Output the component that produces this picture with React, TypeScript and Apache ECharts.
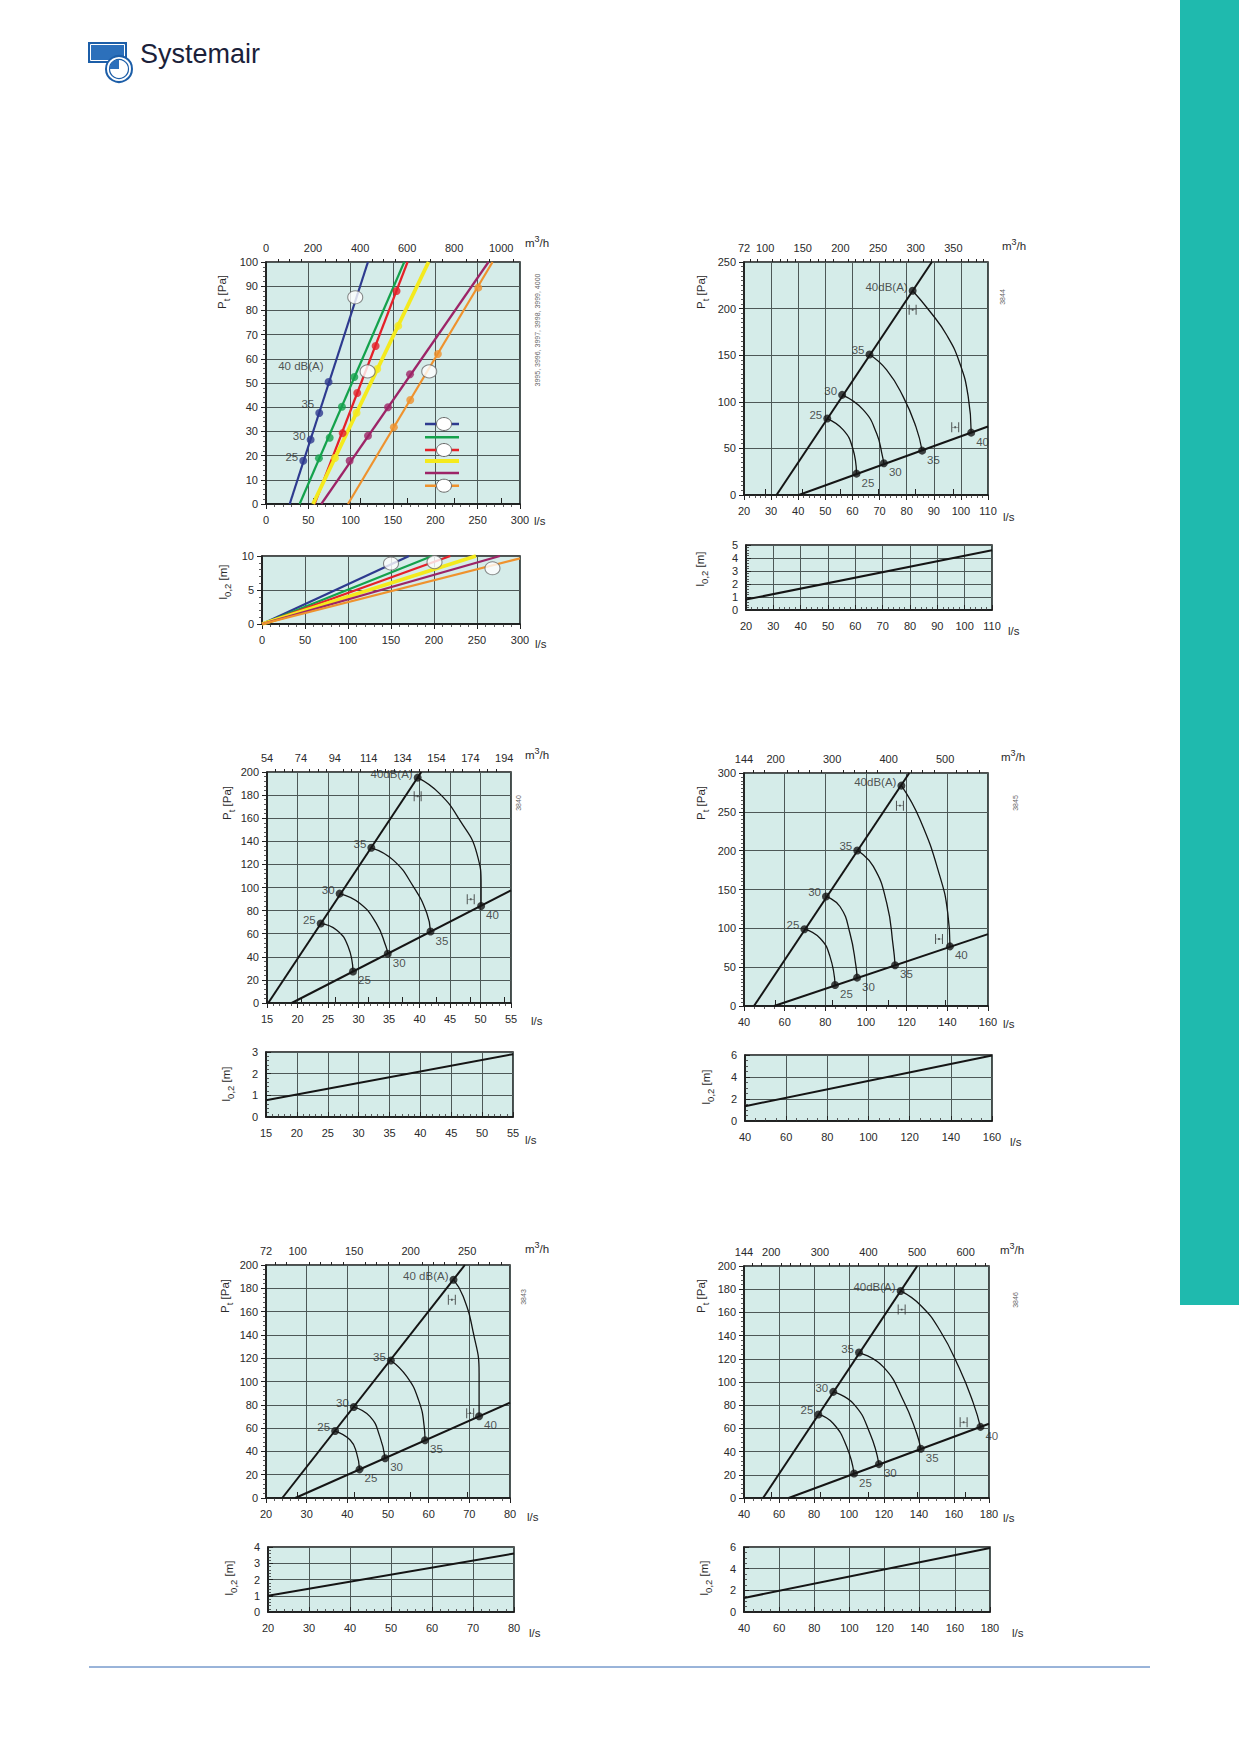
import React, { useEffect, useRef } from 'react';
import * as echarts from 'echarts';

// ================= DATA =================
// Chart 1 – pressure vs flow, six models (l/s, Pa)
const C1_M3H_LABELS = [0, 200, 400, 600, 800, 1000];
const C1_BLUE_LINE = [[28, 0], [120.4, 100]];
const C1_GREEN_LINE = [[39.7, 0], [163.3, 100]];
const C1_RED_LINE = [[57.4, 0], [167.2, 100]];
const C1_YELLOW_LINE = [[55.5, 0], [192, 100]];
const C1_PURPLE_LINE = [[65.3, 0], [262.8, 100]];
const C1_ORANGE_LINE = [[96.8, 0], [267.6, 100]];
const C1_BLUE_DOTS = [[44, 17.9], [52.7, 26.6], [62.9, 37.6], [73.9, 50.4]];
const C1_GREEN_DOTS = [[62.5, 18.9], [75.2, 27.4], [89.7, 40.2], [104.3, 52.5]];
const C1_RED_DOTS = [[90.5, 29.3], [107.8, 45.9], [129.5, 65.3], [154.2, 88]];
const C1_YELLOW_DOTS = [[81.4, 19], [107, 37.7], [131.4, 55.8], [156.2, 73.6]];
const C1_PURPLE_DOTS = [[98.8, 17.9], [120.5, 28.2], [144.1, 40], [170.1, 53.6]];
const C1_ORANGE_DOTS = [[151, 31.7], [170.4, 43], [203, 62], [250.7, 89.4]];
const C1_RINGS = [[105.4, 85.4], [120, 54.8], [192.8, 54.8]];
const C1_DB_LABELS = ['25', '30', '35', '40 dB(A)'];
// Chart 1 – throw l0,2 (m)
const T1_BLUE = [[0, 0], [171, 10]];
const T1_GREEN = [[0, 0], [198, 10]];
const T1_RED = [[0, 0], [219, 10]];
const T1_YELLOW = [[0, 0], [248.8, 10]];
const T1_PURPLE = [[0, 0], [276.7, 10]];
const T1_ORANGE = [[0, 0], [300, 9.66]];
const T1_RINGS = [[150, 8.9], [200.6, 9.1], [268, 8.2]];

const DB_LABELS = ['25', '30', '35', '40dB(A)'];
const LOW_LABELS = ['25', '30', '35', '40'];

// Chart 2 (3844)
const C2_M3H_LABELS = [72, 100, 150, 200, 250, 300, 350];
const C2_UPPER = [[32, 0], [89.3, 250]];
const C2_LOWER = [[40.2, 0], [110, 73.5]];
const C2_UPPER_DOTS = [[50.7, 82], [56.2, 107.4], [66.3, 150.8], [82.2, 219.2]];
const C2_LOWER_DOTS = [[61.5, 22.9], [71.6, 34], [85.7, 47.6], [103.8, 66.9]];
const C2_ARC25 = [[50.7, 82], [56.6, 69.8], [60.1, 50.1], [61.5, 22.9]];
const C2_ARC30 = [[56.2, 107.4], [64.0, 91.3], [68.9, 66.2], [71.1, 41.2], [71.6, 34]];
const C2_ARC35 = [[66.3, 150.8], [72.6, 134.3], [78.7, 105.6], [83.4, 73.4], [85.7, 47.6]];
const C2_ARC40 = [[82.2, 219.2], [88.6, 196.9], [94.7, 171.9], [99.6, 141.4], [102.7, 105.6], [103.8, 66.9]];
const C2_ICONS = [[82.2, 198.7], [97.9, 72.7]];
const T2_LINE = [[20, 0.8], [110, 4.6]];

// Chart 3 (3840)
const C3_M3H_LABELS = [54, 74, 94, 114, 134, 154, 174, 194];
const C3_UPPER = [[15.2, 0], [40.3, 200]];
const C3_LOWER = [[19.05, 0], [55, 97.5]];
const C3_UPPER_DOTS = [[23.8, 68.8], [26.9, 94.7], [32.1, 134.4], [39.7, 195.1]];
const C3_LOWER_DOTS = [[29.1, 27.3], [34.8, 42.6], [41.8, 61.9], [50.1, 84.0]];
const C3_ARC25 = [[23.8, 68.8], [26.4, 63.3], [28.3, 48.9], [29.1, 27.3]];
const C3_ARC30 = [[26.9, 94.7], [30.2, 86.3], [32.9, 69.1], [34.5, 48.9], [34.8, 42.6]];
const C3_ARC35 = [[32.1, 134.4], [35.7, 123.7], [39.0, 100.7], [41.2, 77.7], [41.8, 61.9]];
const C3_ARC40 = [[39.7, 195.1], [43.3, 181.3], [46.6, 158.3], [49.4, 129.5], [50.1, 100.7], [50.1, 84.0]];
const C3_ICONS = [[39.7, 179], [48.4, 89.8]];
const T3_LINE = [[15, 0.77], [55, 2.9]];

// Chart 4 (3845)
const C4_M3H_LABELS = [144, 200, 300, 400, 500];
const C4_UPPER = [[44.9, 0], [121.3, 300]];
const C4_LOWER = [[54.8, 0], [160, 92.5]];
const C4_UPPER_DOTS = [[69.7, 98.9], [80.3, 141], [95.7, 200.3], [117.4, 283.7]];
const C4_LOWER_DOTS = [[84.8, 27.1], [95.6, 36.5], [114.3, 52.4], [141.3, 76.8]];
const C4_ARC25 = [[69.7, 98.9], [77.4, 87.2], [82.3, 63.6], [84.8, 27.1]];
const C4_ARC30 = [[80.3, 141], [87.2, 128.1], [92.1, 93.7], [95.1, 50.7], [95.6, 36.5]];
const C4_ARC35 = [[95.7, 200.3], [103.6, 179.7], [110.2, 132.4], [113.4, 76.5], [114.3, 52.4]];
const C4_ARC40 = [[117.4, 283.7], [126.6, 239.8], [136.4, 166.5], [140.2, 120], [141.3, 76.8]];
const C4_ICONS = [[116.7, 257.9], [135.9, 86.3]];
const T4_LINE = [[40, 1.35], [160, 5.95]];

// Chart 5 (3843)
const C5_M3H_LABELS = [72, 100, 150, 200, 250];
const C5_DB_LABELS = ['25', '30', '35', '40 dB(A)'];
const C5_UPPER = [[24.0, 0], [68.9, 200]];
const C5_LOWER = [[27.2, 0], [80, 81.8]];
const C5_UPPER_DOTS = [[37.0, 57.5], [41.6, 78.1], [50.7, 118], [66.1, 187.4]];
const C5_LOWER_DOTS = [[43.0, 24.6], [49.3, 34.1], [59.1, 49.5], [72.4, 70.2]];
const C5_ARC25 = [[37.0, 57.5], [40.7, 49.8], [42.3, 38.3], [43.0, 24.6]];
const C5_ARC30 = [[41.6, 78.1], [45.6, 69.9], [48.0, 52.7], [49.3, 34.1]];
const C5_ARC35 = [[50.7, 118], [54.6, 104.3], [57.5, 84.2], [58.9, 61.3], [59.1, 49.5]];
const C5_ARC40 = [[66.1, 187.4], [68.5, 173], [71.0, 141.5], [72.4, 107.1], [72.4, 70.2]];
const C5_ICONS = [[65.7, 170.2], [70.2, 72.8]];
const T5_LINE = [[20, 1.0], [80, 3.6]];

// Chart 6 (3846)
const C6_M3H_LABELS = [144, 200, 300, 400, 500, 600];
const C6_UPPER = [[50.9, 0], [139, 200]];
const C6_LOWER = [[65.5, 0], [180, 64]];
const C6_UPPER_DOTS = [[82.5, 72], [91, 91.5], [105.7, 125.4], [129.5, 178.5]];
const C6_LOWER_DOTS = [[102.9, 21.1], [117.1, 29.2], [141, 42.4], [175.1, 61.3]];
const C6_ARC25 = [[82.5, 72], [91, 64.2], [98.7, 44.1], [102.9, 21.1]];
const C6_ARC30 = [[91, 91.5], [102.5, 81.4], [112, 55.6], [117.1, 29.2]];
const C6_ARC35 = [[105.7, 125.4], [119.6, 113], [131, 84.3], [138.7, 55.6], [141, 42.4]];
const C6_ARC40 = [[129.5, 178.5], [141, 166], [152, 144.4], [163, 112], [171, 82], [175.1, 61.3]];
const C6_ICONS = [[130.1, 162.4], [165.5, 65.3]];
const T6_LINE = [[40, 1.3], [180, 5.9]];

// ================= STYLE / LAYOUT =================
const FONT = '"Liberation Sans", Arial, Helvetica, sans-serif';
const BG = '#d5ece9';
const GRIDLINE = '#4d5857';
const AXIS = '#151515';
const TXT = '#2a2a2a';
const LBL = { fontFamily: FONT, fontSize: 11, color: TXT, formatter: (v: number) => String(v) };
const COL = {
  blue: '#2e3a8f', green: '#14a24c', red: '#e52129', yellow: '#f4ea1d', purple: '#9d2467', orange: '#ef922d',
};
const ICON = 'path://M0,0H1.3V12H0Z M8.7,0H10V12H8.7Z M1.3,5.7H8.7V6.3H1.3Z M3.9,4.9H6.1V7.1H3.9Z';

const range = (a: number, b: number, s: number) => {
  const r: number[] = [];
  for (let v = a; v <= b + 1e-9; v += s) r.push(+v.toFixed(3));
  return r;
};

function buildOption() {
  const grids: any[] = [];
  const xAxes: any[] = [];
  const yAxes: any[] = [];
  const series: any[] = [];
  const g: any[] = [];

  const gridBox = (b: number[]) => ({
    left: b[0], top: b[1], width: b[2], height: b[3], show: true,
    backgroundColor: BG, borderColor: AXIS, borderWidth: 1.5, containLabel: false, outerBoundsMode: 'none',
  });
  const valAxis = (gi: number, pos: string, r: number[], inside: boolean, margin: number) => ({
    gridIndex: gi, type: 'value', position: pos, min: r[0], max: r[1], interval: r[2],
    axisLine: { show: true, onZero: false, lineStyle: { color: AXIS, width: 1.5 } },
    axisTick: { show: true, inside, length: 5, lineStyle: { color: '#222', width: 1 } },
    minorTick: { show: true, splitNumber: r[3], length: 3, lineStyle: { color: '#333', width: 0.8 } },
    axisLabel: { ...LBL, margin },
    splitLine: { show: true, lineStyle: { color: GRIDLINE, width: 1 } },
    minorSplitLine: { show: false },
  });
  const topAxis = (gi: number, r: number[], vals: number[], len: number, labels: boolean) => ({
    gridIndex: gi, type: 'value', position: 'top', min: r[0], max: r[1],
    axisLine: { show: false }, splitLine: { show: false },
    axisTick: { show: true, customValues: vals, length: len, lineStyle: { color: '#222', width: 1 } },
    axisLabel: labels ? { ...LBL, customValues: vals, margin: 9 } : { show: false },
  });

  const addGrid = (box: number[], xr: number[], yr: number[], inside: boolean, m3?: any) => {
    const gi = grids.length;
    grids.push(gridBox(box));
    const xi = xAxes.length;
    xAxes.push(valAxis(gi, 'bottom', xr, inside, 10));
    if (m3) {
      xAxes.push(topAxis(gi, m3.r, m3.labels, 6, true));
      xAxes.push(topAxis(gi, m3.r, m3.minor.filter((v: number) => !m3.labels.includes(v)), 3, false));
    }
    const yi = yAxes.length;
    yAxes.push(valAxis(gi, 'left', yr, inside, 8));
    return { xi, yi };
  };

  const line = (ax: any, data: number[][], color: string, width: number, smooth: any = false, z = 3) => {
    series.push({
      type: 'line', xAxisIndex: ax.xi, yAxisIndex: ax.yi, data, symbol: 'none', showSymbol: false,
      smooth, lineStyle: { color, width }, silent: true, z, clip: true,
    });
  };
  const dots = (ax: any, pts: number[][], color: string, labels?: string[], mode?: string, offs?: number[][]) => {
    series.push({
      type: 'scatter', xAxisIndex: ax.xi, yAxisIndex: ax.yi, symbol: 'circle', symbolSize: 8,
      itemStyle: { color }, z: 5, silent: true,
      data: pts.map((p, i) => ({
        value: p,
        label: labels ? (mode === 'up'
          ? { show: true, formatter: labels[i], position: 'left', distance: 1, offset: offs ? offs[i] : [0, -4], fontFamily: FONT, color: TXT, fontSize: 11.5 }
          : { show: true, formatter: labels[i], position: 'right', distance: 1, offset: [0, 9], fontFamily: FONT, color: TXT, fontSize: 11.5 })
          : { show: false },
      })),
    });
  };
  const rings = (ax: any, pts: number[][]) => {
    series.push({
      type: 'scatter', xAxisIndex: ax.xi, yAxisIndex: ax.yi, symbol: 'circle', symbolSize: [15, 13],
      itemStyle: { color: '#ffffff', borderColor: '#6b6b6b', borderWidth: 1 }, z: 6, silent: true, data: pts,
    });
  };
  const icons = (ax: any, pts: number[][]) => {
    series.push({
      type: 'scatter', xAxisIndex: ax.xi, yAxisIndex: ax.yi, symbol: ICON, symbolSize: [8, 10],
      itemStyle: { color: '#333' }, z: 5, silent: true, data: pts,
    });
  };

  // ---------- Chart 1 ----------
  const a1 = addGrid([266, 262, 254, 242], [0, 300, 50, 5], [0, 100, 10, 5], false,
    { r: [0, 1080], labels: C1_M3H_LABELS, minor: range(0, 1050, 50) });
  const c1 = [
    [C1_BLUE_LINE, C1_BLUE_DOTS, COL.blue, 2.2],
    [C1_GREEN_LINE, C1_GREEN_DOTS, COL.green, 2.2],
    [C1_RED_LINE, C1_RED_DOTS, COL.red, 2.2],
    [C1_YELLOW_LINE, C1_YELLOW_DOTS, COL.yellow, 3.8],
    [C1_PURPLE_LINE, C1_PURPLE_DOTS, COL.purple, 2.2],
    [C1_ORANGE_LINE, C1_ORANGE_DOTS, COL.orange, 2.2],
  ] as any[];
  c1.forEach((s) => line(a1, s[0], s[2], s[3]));
  c1.forEach((s, i) => dots(a1, s[1], s[2], i === 0 ? C1_DB_LABELS : undefined, 'up',
    [[0, -4], [0, -4], [0, -9], [0, -16]]));
  rings(a1, C1_RINGS);

  const t1 = addGrid([262, 556, 258, 68], [0, 300, 50, 5], [0, 10, 5, 5], false);
  [[T1_BLUE, COL.blue, 2.2], [T1_GREEN, COL.green, 2.2], [T1_RED, COL.red, 2.2], [T1_YELLOW, COL.yellow, 3.8],
    [T1_PURPLE, COL.purple, 2.2], [T1_ORANGE, COL.orange, 2.2]].forEach((s: any) => line(t1, s[0], s[1], s[2]));
  rings(t1, T1_RINGS);

  // ---------- Charts 2–6 ----------
  const singles = [
    { box: [744, 262, 244, 233], x: [20, 110, 10, 5], y: [0, 250, 50, 10], m3: [72, 396], m3L: C2_M3H_LABELS, m3M: range(80, 390, 10),
      up: C2_UPPER, lo: C2_LOWER, ud: C2_UPPER_DOTS, ld: C2_LOWER_DOTS, arcs: [C2_ARC25, C2_ARC30, C2_ARC35, C2_ARC40], ic: C2_ICONS, lab: DB_LABELS,
      tb: [746, 545, 246, 65], tx: [20, 110, 10, 5], ty: [0, 5, 1, 5], tl: T2_LINE },
    { box: [267, 772, 244, 231], x: [15, 55, 5, 5], y: [0, 200, 20, 5], m3: [54, 198], m3L: C3_M3H_LABELS, m3M: range(54, 198, 5),
      up: C3_UPPER, lo: C3_LOWER, ud: C3_UPPER_DOTS, ld: C3_LOWER_DOTS, arcs: [C3_ARC25, C3_ARC30, C3_ARC35, C3_ARC40], ic: C3_ICONS, lab: DB_LABELS,
      tb: [266, 1052, 247, 65], tx: [15, 55, 5, 5], ty: [0, 3, 1, 5], tl: T3_LINE },
    { box: [744, 773, 244, 233], x: [40, 160, 20, 4], y: [0, 300, 50, 10], m3: [144, 576], m3L: C4_M3H_LABELS, m3M: range(160, 560, 20),
      up: C4_UPPER, lo: C4_LOWER, ud: C4_UPPER_DOTS, ld: C4_LOWER_DOTS, arcs: [C4_ARC25, C4_ARC30, C4_ARC35, C4_ARC40], ic: C4_ICONS, lab: DB_LABELS,
      tb: [745, 1055, 247, 66], tx: [40, 160, 20, 4], ty: [0, 6, 2, 4], tl: T4_LINE },
    { box: [266, 1265, 244, 233], x: [20, 80, 10, 5], y: [0, 200, 20, 5], m3: [72, 288], m3L: C5_M3H_LABELS, m3M: range(80, 280, 10),
      up: C5_UPPER, lo: C5_LOWER, ud: C5_UPPER_DOTS, ld: C5_LOWER_DOTS, arcs: [C5_ARC25, C5_ARC30, C5_ARC35, C5_ARC40], ic: C5_ICONS, lab: C5_DB_LABELS,
      tb: [268, 1547, 246, 65], tx: [20, 80, 10, 5], ty: [0, 4, 1, 5], tl: T5_LINE },
    { box: [744, 1266, 245, 232], x: [40, 180, 20, 4], y: [0, 200, 20, 5], m3: [144, 648], m3L: C6_M3H_LABELS, m3M: range(160, 640, 20),
      up: C6_UPPER, lo: C6_LOWER, ud: C6_UPPER_DOTS, ld: C6_LOWER_DOTS, arcs: [C6_ARC25, C6_ARC30, C6_ARC35, C6_ARC40], ic: C6_ICONS, lab: DB_LABELS,
      tb: [744, 1547, 246, 65], tx: [40, 180, 20, 4], ty: [0, 6, 2, 4], tl: T6_LINE },
  ];
  singles.forEach((c) => {
    const a = addGrid(c.box, c.x, c.y, false, { r: c.m3, labels: c.m3L, minor: c.m3M });
    line(a, c.up, AXIS, 2);
    line(a, c.lo, AXIS, 2);
    c.arcs.forEach((arc) => line(a, arc, AXIS, 1.3, 0.5, 4));
    dots(a, c.ud, AXIS, c.lab, 'up');
    dots(a, c.ld, AXIS, LOW_LABELS, 'low');
    icons(a, c.ic);
    const t = addGrid(c.tb, c.tx, c.ty, true);
    line(t, c.tl, AXIS, 2);
  });

  // ---------- Graphics ----------
  const txt = (x: number, y: number, text: string, o: any = {}) => g.push({
    type: 'text', x, y, rotation: o.rot || 0, silent: true, z: 10,
    style: {
      text, fill: o.fill || TXT, fontFamily: FONT, fontSize: o.size || 11,
      align: o.align || 'left', verticalAlign: 'middle', rich: o.rich,
    },
  });
  const richBase = { fontFamily: FONT, fontSize: 11.5, fill: TXT, color: TXT };
  const subRich = { fontFamily: FONT, fontSize: 9.5, fill: TXT, color: TXT, padding: [8, 0, 0, 0] };
  const supRich = { fontFamily: FONT, fontSize: 9, fill: TXT, color: TXT, padding: [0, 0, 8, 0] };

  // page furniture
  g.push({ type: 'rect', shape: { x: 1180, y: 0, width: 59, height: 1305 }, style: { fill: '#1fbaae' }, silent: true });
  g.push({ type: 'line', shape: { x1: 89, y1: 1667, x2: 1150, y2: 1667 }, style: { stroke: '#3569b3', lineWidth: 1 }, silent: true });
  // logo
  g.push({ type: 'rect', shape: { x: 88, y: 42, width: 39, height: 21 }, style: { fill: '#1c5ea8' }, silent: true });
  g.push({ type: 'rect', shape: { x: 90.5, y: 44.5, width: 34, height: 16 }, style: { fill: '#2c70bb', stroke: '#ffffff', lineWidth: 1 }, silent: true });
  g.push({ type: 'circle', shape: { cx: 119, cy: 69, r: 13 }, style: { fill: '#ffffff', stroke: '#1c5ea8', lineWidth: 2 }, silent: true });
  g.push({ type: 'circle', shape: { cx: 119, cy: 69, r: 9.5 }, style: { fill: 'none', stroke: '#1c5ea8', lineWidth: 1.2 }, silent: true });
  g.push({ type: 'sector', shape: { cx: 119, cy: 69, r: 9.5, r0: 0, startAngle: Math.PI, endAngle: Math.PI * 1.5 }, style: { fill: '#2c70bb' }, silent: true });
  txt(140, 54, 'Systemair', { size: 27, fill: '#1b1f3a' });

  // axis names
  const ptName = '{a|P}{b|t}{a| [Pa]}';
  const lName = '{a|l}{b|0,2}{a| [m]}';
  const m3Name = '{a|m}{s|3}{a|/h}';
  const rich = { a: richBase, b: subRich, s: supRich };
  [[222, 292], [701, 292], [227, 803], [701, 803], [225, 1296], [701, 1296]].forEach((p) =>
    txt(p[0], p[1], ptName, { rot: Math.PI / 2, align: 'center', rich }));
  [[223, 582], [700, 569], [226, 1084], [706, 1087], [229, 1578], [704, 1578]].forEach((p) =>
    txt(p[0], p[1], lName, { rot: Math.PI / 2, align: 'center', rich }));
  [[525, 243], [1002, 246], [525, 755], [1001, 757], [525, 1249], [1000, 1250]].forEach((p) =>
    txt(p[0], p[1], m3Name, { rich }));
  [[534, 521], [1003, 517], [531, 1021], [1003, 1024], [527, 1517], [1003, 1518],
    [535, 644], [1008, 631], [525, 1140], [1010, 1142], [529, 1633], [1012, 1633]].forEach((p) =>
    txt(p[0], p[1], 'l/s', { size: 11.5 }));

  // document numbers
  [[537, 330, '3995, 3996, 3997, 3998, 3999, 4000'], [1002, 297, '3844'], [518, 803, '3840'],
    [1015, 803, '3845'], [523, 1297, '3843'], [1015, 1300, '3846']].forEach((p: any) =>
    txt(p[0], p[1], p[2], { rot: Math.PI / 2, align: 'center', size: 7, fill: '#666' }));

  // chart 1 legend
  const legY = [424, 437.3, 450, 461, 473, 485.7];
  const legC = [COL.blue, COL.green, COL.red, COL.yellow, COL.purple, COL.orange];
  legY.forEach((y, i) => {
    g.push({ type: 'line', shape: { x1: 425, y1: y, x2: 459, y2: y }, style: { stroke: legC[i], lineWidth: i === 3 ? 4 : 2.5 }, silent: true, z: 10 });
    if (i === 0 || i === 2 || i === 5) {
      g.push({ type: 'ellipse', shape: { cx: 444, cy: y, rx: 7.5, ry: 6.5 }, style: { fill: '#fff', stroke: '#6b6b6b', lineWidth: 1 }, silent: true, z: 11 });
    }
  });

  return {
    animation: false,
    backgroundColor: '#ffffff',
    textStyle: { fontFamily: FONT },
    grid: grids,
    xAxis: xAxes,
    yAxis: yAxes,
    series,
    graphic: { elements: g },
  };
}

export default function App() {
  const ref = useRef<HTMLDivElement>(null);
  useEffect(() => {
    if (!ref.current) return;
    const chart = echarts.init(ref.current, undefined, { renderer: 'svg' });
    chart.setOption(buildOption() as any);
    return () => chart.dispose();
  }, []);
  return (
    <div
      ref={ref}
      style={{ position: 'absolute', left: 0, top: 0, width: 1239, height: 1754, background: '#fff' }}
    />
  );
}
